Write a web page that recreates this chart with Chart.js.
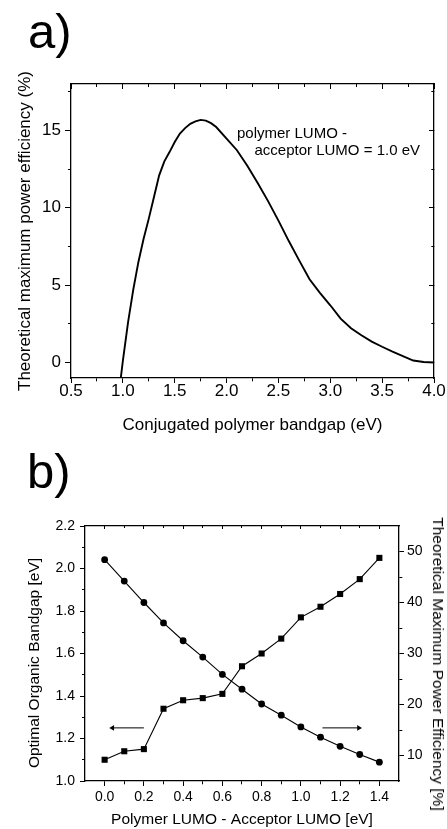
<!DOCTYPE html>
<html>
<head>
<meta charset="utf-8">
<script src="https://cdn.jsdelivr.net/npm/chart.js@4.4.0/dist/chart.umd.min.js"></script>
<style>
html,body{margin:0;padding:0;background:#fff;}
body{width:447px;height:829px;position:relative;overflow:hidden;font-family:'Liberation Sans',Arial,sans-serif;color:#000;}
canvas{position:absolute;left:0;}
#ca{top:0;}
#cb{top:445px;}
.panel{position:absolute;font-size:49px;line-height:49px;}
.note{position:absolute;font-size:15px;line-height:15px;white-space:nowrap;}
.vt{position:absolute;font-size:15.5px;line-height:18px;white-space:nowrap;}
</style>
</head>
<body>
<canvas id="ca" width="447" height="445"></canvas>
<canvas id="cb" width="447" height="384"></canvas>
<div class="panel" style="left:28px;top:6.5px;">a)</div>
<div class="panel" style="left:27px;top:447px;">b)</div>
<div class="note" style="left:237px;top:124.8px;">polymer LUMO -</div>
<div class="note" style="left:254.5px;top:142.3px;">acceptor LUMO = 1.0 eV</div>
<div class="vt" style="left:34px;top:663px;transform:translate(-50%,-50%) rotate(-90deg);">Optimal Organic Bandgap [eV]</div>
<div class="vt" style="left:438px;top:664px;transform:translate(-50%,-50%) rotate(90deg);">Theoretical Maximum Power Efficiency [%]</div>
<script>
// ---------- Panel a data ----------
const bandgapEV = [0.98, 1.00, 1.05, 1.10, 1.15, 1.20, 1.25, 1.30, 1.35, 1.40, 1.45, 1.50, 1.55, 1.60, 1.65, 1.70, 1.75, 1.80, 1.85, 1.90, 2.00, 2.10, 2.20, 2.30, 2.40, 2.50, 2.60, 2.70, 2.80, 2.90, 3.00, 3.10, 3.20, 3.30, 3.40, 3.50, 3.60, 3.70, 3.80, 3.90, 4.00];
const efficiencyPct = [-1.0, 0.1, 2.6, 4.7, 6.5, 8.0, 9.3, 10.7, 12.1, 13.0, 13.6, 14.25, 14.8, 15.15, 15.43, 15.58, 15.68, 15.63, 15.47, 15.22, 14.47, 13.72, 12.72, 11.6, 10.43, 9.17, 7.85, 6.6, 5.38, 4.5, 3.7, 2.84, 2.22, 1.76, 1.35, 1.02, 0.71, 0.42, 0.13, 0.03, 0.0];

const aXMajor = [0.5, 1.0, 1.5, 2.0, 2.5, 3.0, 3.5, 4.0];
const aXMinor = [0.75, 1.25, 1.75, 2.25, 2.75, 3.25, 3.75];
const aYMajor = [0, 5, 10, 15];
const aYMinor = [2.5, 7.5, 12.5, 17.5];

// ---------- Panel b data ----------
const lumoOffsetEV = [0.0, 0.1, 0.2, 0.3, 0.4, 0.5, 0.6, 0.7, 0.8, 0.9, 1.0, 1.1, 1.2, 1.3, 1.4];
const optimalBandgapEV = [1.10, 1.14, 1.15, 1.34, 1.38, 1.39, 1.41, 1.54, 1.60, 1.67, 1.77, 1.82, 1.88, 1.95, 2.05];
const maxEfficiencyPct = [48.4, 44.2, 40.0, 36.0, 32.5, 29.3, 25.9, 23.0, 20.1, 17.9, 15.6, 13.6, 11.8, 10.2, 8.7];

const bXMajor = [0.0, 0.2, 0.4, 0.6, 0.8, 1.0, 1.2, 1.4];
const bXMinor = [0.1, 0.3, 0.5, 0.7, 0.9, 1.1, 1.3];
const bYMajor = [1.0, 1.2, 1.4, 1.6, 1.8, 2.0, 2.2];
const bYMinor = [1.1, 1.3, 1.5, 1.7, 1.9, 2.1];
const bY2Major = [10, 20, 30, 40, 50];
const bY2Minor = [15, 25, 35, 45];

// arrows (data coordinates, left-axis units)
const arrowLeftX = [0.2, 0.04];
const arrowRightX = [1.11, 1.295];
const arrowY = 1.25;

// ---------- helpers ----------
const FONT = "'Liberation Sans', Arial, Helvetica, sans-serif";
const BLACK = '#000';

function setTicks(major, minor) {
  return function (scale) {
    scale.ticks = major.concat(minor).sort((a, b) => a - b).map(v => ({ value: v }));
  };
}
function tickGrid(pos, major, majorLen, minorLen, inward) {
  const startsFar = (pos === 'top' || pos === 'left');
  return {
    display: true,
    drawOnChartArea: false,
    drawTicks: true,
    tickLength: inward ? -majorLen : majorLen,
    tickColor: BLACK,
    tickWidth: 1,
    tickBorderDash: ctx => (ctx.tick && !major.includes(ctx.tick.value)) ? [minorLen, 100] : [],
    tickBorderDashOffset: ctx => (ctx.tick && !major.includes(ctx.tick.value) && startsFar) ? (100 + minorLen) - majorLen + minorLen : 0
  };
}
const borderOpt = { display: true, color: BLACK, width: 1.3 };

// ---------- Chart a ----------
new Chart(document.getElementById('ca'), {
  type: 'scatter',
  data: {
    datasets: [{
      data: bandgapEV.map((x, i) => ({ x: x, y: efficiencyPct[i] })),
      showLine: true,
      borderColor: BLACK,
      borderWidth: 1.9,
      pointRadius: 0,
      tension: 0,
      fill: false
    }]
  },
  options: {
    responsive: false,
    animation: false,
    events: [],
    layout: { padding: 0 },
    plugins: { legend: { display: false }, tooltip: { enabled: false } },
    scales: {
      x: {
        type: 'linear', position: 'bottom', min: 0.5, max: 4.0,
        afterBuildTicks: setTicks(aXMajor, aXMinor),
        afterFit: s => { s.height = 67; },
        ticks: { autoSkip: false, maxRotation: 0, padding: -2, color: BLACK,
          font: { family: FONT, size: 17 },
          callback: v => aXMajor.includes(v) ? v.toFixed(1) : '' },
        grid: tickGrid('bottom', aXMajor, 5, 3, false),
        border: borderOpt,
        title: { display: true, text: 'Conjugated polymer bandgap (eV)', color: BLACK,
          font: { family: FONT, size: 17 }, padding: { top: 0, bottom: 9.8 } }
      },
      x2: {
        type: 'linear', position: 'top', min: 0.5, max: 4.0,
        afterBuildTicks: setTicks(aXMajor, aXMinor),
        afterFit: s => { s.height = 84; },
        ticks: { display: false },
        grid: tickGrid('top', aXMajor, 5, 3, true),
        border: borderOpt
      },
      y: {
        type: 'linear', position: 'left', min: -1, max: 18,
        afterBuildTicks: setTicks(aYMajor, aYMinor),
        afterFit: s => { s.width = 71; },
        ticks: { autoSkip: false, padding: 4, color: BLACK,
          font: { family: FONT, size: 17 },
          callback: v => aYMajor.includes(v) ? String(v) : '' },
        grid: tickGrid('left', aYMajor, 6, 3, false),
        border: borderOpt,
        title: { display: true, text: 'Theoretical maximum power efficiency (%)', color: BLACK,
          font: { family: FONT, size: 17 }, padding: { top: 14.8, bottom: 0 } }
      },
      y2: {
        type: 'linear', position: 'right', min: -1, max: 18,
        afterBuildTicks: setTicks(aYMajor, aYMinor),
        afterFit: s => { s.width = 13; },
        ticks: { display: false },
        grid: tickGrid('right', aYMajor, 5, 3, true),
        border: borderOpt
      }
    }
  }
});

// ---------- Chart b ----------
new Chart(document.getElementById('cb'), {
  type: 'scatter',
  data: {
    datasets: [
      {
        data: lumoOffsetEV.map((x, i) => ({ x: x, y: optimalBandgapEV[i] })),
        yAxisID: 'y', showLine: true, borderColor: BLACK, borderWidth: 1.1,
        pointStyle: 'rect', pointRadius: 4.3, pointBackgroundColor: BLACK,
        pointBorderColor: BLACK, pointBorderWidth: 0, tension: 0
      },
      {
        data: lumoOffsetEV.map((x, i) => ({ x: x, y: maxEfficiencyPct[i] })),
        yAxisID: 'y2', showLine: true, borderColor: BLACK, borderWidth: 1.1,
        pointStyle: 'circle', pointRadius: 3.4, pointBackgroundColor: BLACK,
        pointBorderColor: BLACK, pointBorderWidth: 0, tension: 0
      },
      {
        data: arrowLeftX.map(x => ({ x: x, y: arrowY })),
        yAxisID: 'y', showLine: true, borderColor: BLACK, borderWidth: 1,
        pointStyle: 'triangle', pointRadius: [0, 3.2], pointRotation: -90,
        pointBackgroundColor: BLACK, pointBorderColor: BLACK, pointBorderWidth: 0
      },
      {
        data: arrowRightX.map(x => ({ x: x, y: arrowY })),
        yAxisID: 'y', showLine: true, borderColor: BLACK, borderWidth: 1,
        pointStyle: 'triangle', pointRadius: [0, 3.2], pointRotation: 90,
        pointBackgroundColor: BLACK, pointBorderColor: BLACK, pointBorderWidth: 0
      }
    ]
  },
  options: {
    responsive: false,
    animation: false,
    events: [],
    layout: { padding: 0 },
    plugins: { legend: { display: false }, tooltip: { enabled: false } },
    scales: {
      x: {
        type: 'linear', position: 'bottom', min: -0.1, max: 1.5,
        afterBuildTicks: setTicks(bXMajor, bXMinor),
        afterFit: s => { s.height = 48; },
        ticks: { autoSkip: false, maxRotation: 0, padding: 3, color: BLACK,
          font: { family: FONT, size: 14 },
          callback: v => bXMajor.includes(v) ? v.toFixed(1) : '' },
        grid: tickGrid('bottom', bXMajor, 5, 3, false),
        border: borderOpt,
        title: { display: true, text: 'Polymer LUMO - Acceptor LUMO [eV]', color: BLACK,
          font: { family: FONT, size: 15.5 }, padding: { top: 0, bottom: 0 } }
      },
      x2: {
        type: 'linear', position: 'top', min: -0.1, max: 1.5,
        afterBuildTicks: setTicks(bXMajor, bXMinor),
        afterFit: s => { s.height = 81; },
        ticks: { display: false },
        grid: tickGrid('top', bXMajor, 3, 2, true),
        border: borderOpt
      },
      y: {
        type: 'linear', position: 'left', min: 1.0, max: 2.2,
        afterBuildTicks: setTicks(bYMajor, bYMinor),
        afterFit: s => { s.width = 85; },
        ticks: { autoSkip: false, padding: 5, color: BLACK,
          font: { family: FONT, size: 14 },
          callback: v => bYMajor.includes(v) ? v.toFixed(1) : '' },
        grid: tickGrid('left', bYMajor, 5, 3, false),
        border: borderOpt
      },
      y2: {
        type: 'linear', position: 'right', min: 5, max: 55,
        afterBuildTicks: setTicks(bY2Major, bY2Minor),
        afterFit: s => { s.width = 48; },
        ticks: { autoSkip: false, padding: 3, color: BLACK,
          font: { family: FONT, size: 14 },
          callback: v => bY2Major.includes(v) ? String(v) : '' },
        grid: tickGrid('right', bY2Major, 5, 3, false),
        border: borderOpt
      }
    }
  }
});
</script>
</body>
</html>
